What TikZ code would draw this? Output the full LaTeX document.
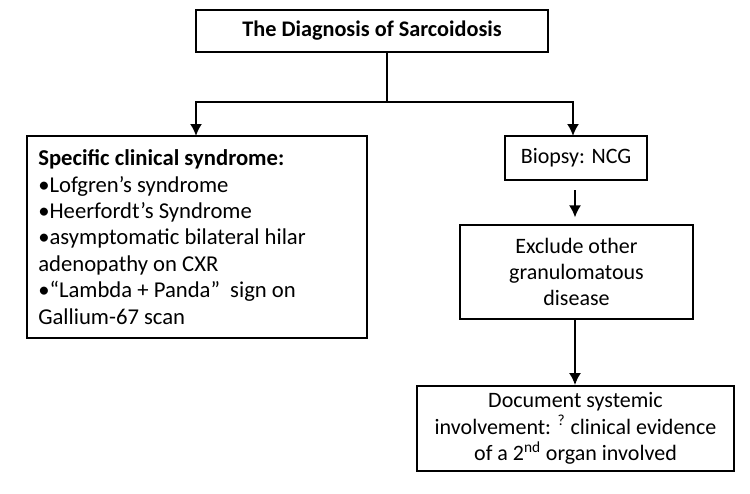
\documentclass[tikz,border=0pt]{standalone}
\usepackage{fontspec}
\setmainfont{Carlito}
\usetikzlibrary{arrows.meta,positioning}

\tikzset{
    box/.style={draw,line width=1.4pt,inner sep=0pt,align=center,font=\fontsize{16.5}{19.7}\selectfont},
    arr/.style={line width=1.4pt,-{Latex[length=9pt,width=9pt]}}
}

\begin{document}
\begin{tikzpicture}[x=0.75pt,y=-0.75pt]
    \useasboundingbox (0,0) rectangle (750,493);

    \node[box,minimum width=264pt,minimum height=31.5pt,font=\fontsize{16.7}{19.7}\selectfont\bfseries] (title) at (372,31) {The Diagnosis of Sarcoidosis};

    % left branch, plain word spacing
    \node[box,minimum width=255pt,minimum height=151.5pt,text width=238pt,align=left,font=\fontsize{17}{19.8}\selectfont] (synd) at (197,237)
        {\spaceskip=0pt\xspaceskip=0pt
         \textbf{Specific clinical syndrome:}\\
         •Lofgren’s syndrome\\
         •Heerfordt’s Syndrome\\
         •asymptomatic bilateral hilar\\
         adenopathy on CXR\\
         •“Lambda + Panda”\ \ sign on\\
         Gallium-67 scan};

    \node[box,minimum width=106.5pt,minimum height=33pt] (bio) at (576,158) {Biopsy: NCG};
    \node[box,minimum width=174.75pt,minimum height=70.5pt] (excl) at (576.5,272) {Exclude other\\granulomatous\\disease};
    \node[box,minimum width=237.75pt,minimum height=63.75pt] (doc) at (575.5,428.5)
        {Document systemic\\involvement: \textsuperscript{?} clinical evidence\\of a 2\textsuperscript{nd} organ involved};

    % split below the title
    \coordinate (split) at (387,102);
    \draw[line width=1.4pt] (title.south -| split) -- (split);
    \draw[arr] (split) -| (196,136);
    \draw[arr] (split) -| (573,136);

    \draw[arr,shorten <=7pt,shorten >=5pt] (bio.south -| 575,0) -- (excl.north -| 575,0);
    \draw[arr] (excl.south -| 575,0) -- (doc.north -| 575,0);
\end{tikzpicture}
\end{document}
